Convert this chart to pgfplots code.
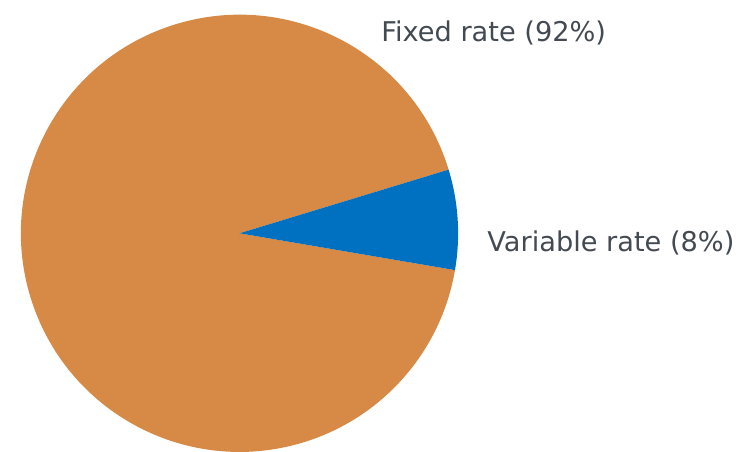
\documentclass[border=0pt]{standalone}
\usepackage{pgfplots}
\pgfplotsset{compat=1.18}
\usepackage{fontspec}
\setmainfont{DejaVu Sans}
\definecolor{fixedc}{HTML}{D68A46}
\definecolor{varc}{HTML}{0070C0}
\definecolor{labelc}{HTML}{434A52}

% shares in percent, start angle of the variable-rate slice
\def\varshare{7.4}
\def\startang{-9.7}
\def\cx{239.5}
\def\cy{217.7}
\def\rr{218.6}

\begin{document}
\begin{tikzpicture}
\begin{axis}[x=0.5pt,y=0.5pt,xmin=0,xmax=738,ymin=0,ymax=451,
  hide axis,clip=true]
\path (axis cs:0,0) rectangle (axis cs:738,451);
\pgfmathsetmacro{\endang}{\startang+3.6*\varshare}
\pgfmathsetmacro{\rpt}{0.5*\rr}
\fill[fixedc] (axis cs:\cx,\cy) -- (axis cs:{\cx+\rr*cos(\endang)},{\cy+\rr*sin(\endang)})
  arc[start angle=\endang, end angle=\startang+360, radius=\rpt pt] -- cycle;
\fill[varc] (axis cs:\cx,\cy) -- (axis cs:{\cx+\rr*cos(\startang)},{\cy+\rr*sin(\startang)})
  arc[start angle=\startang, end angle=\endang, radius=\rpt pt] -- cycle;
\node[anchor=base west,inner sep=0pt,text=labelc,font=\fontsize{13.6}{16}\selectfont]
  at (axis cs:381,409) {Fixed rate (92\%)};
\node[anchor=base west,inner sep=0pt,text=labelc,font=\fontsize{13.6}{16}\selectfont]
  at (axis cs:487,199.3) {Variable rate (8\%)};
\end{axis}
\end{tikzpicture}
\end{document}
